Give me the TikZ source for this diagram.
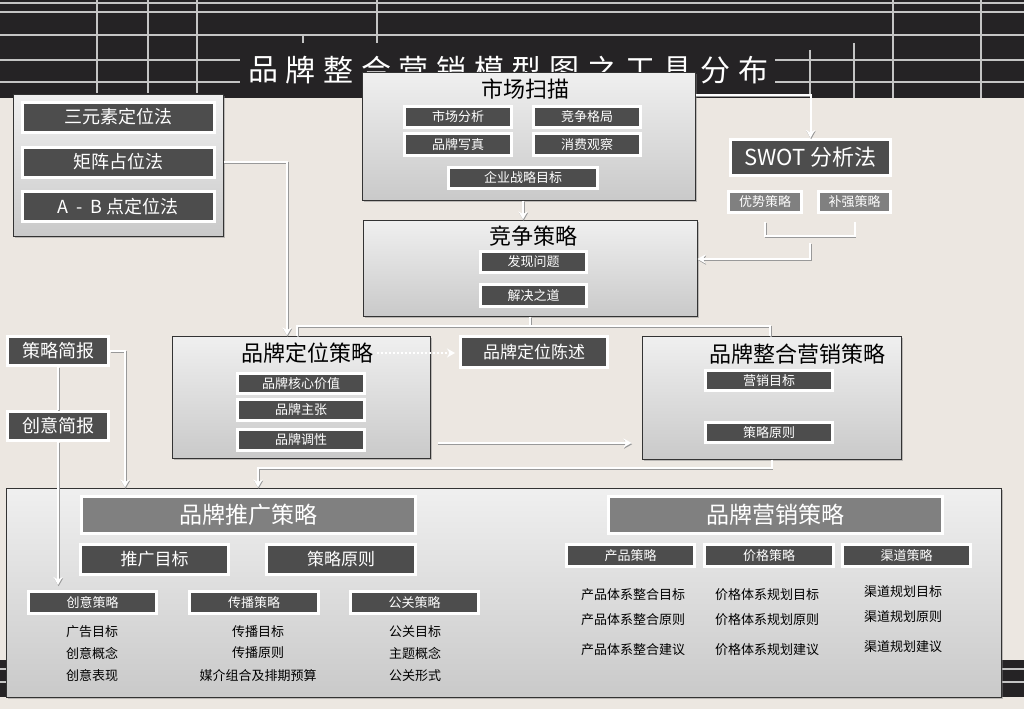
\documentclass[tikz,border=0pt]{standalone}
\usepackage{fontspec}
\setmainfont{Noto Sans CJK SC}
\usepackage{tikz}
\usetikzlibrary{arrows.meta,shadows}

\definecolor{paper}{HTML}{ECE7E1}
\definecolor{band}{HTML}{252325}
\definecolor{gridln}{HTML}{C4C4C4}
\definecolor{btndark}{HTML}{4D4D4D}
\definecolor{btngrey}{HTML}{808080}

\newcommand\pxsize[1]{\fontsize{#1}{#1}\selectfont}

\tikzset{
  panel/.style={draw=black!80, line width=1pt, top color=black!6, bottom color=black!21,
    inner sep=0pt, drop shadow={shadow xshift=1.5pt, shadow yshift=-1.5pt, opacity=.45}},
  btn/.style={draw=white, line width=3pt, fill=btndark, text=white, inner sep=0pt},
  greybtn/.style={btn, fill=btngrey},
  wire/.style={white, line width=2pt,
    preaction={draw=black!40, line width=2pt, transform canvas={xshift=.6pt, yshift=-1.2pt}}},
  listtxt/.style={font=\pxsize{13}, inner sep=0pt},
}

\begin{document}
\begin{tikzpicture}[x=1pt, y=-1pt, >={Stealth[length=8pt,width=9pt]}]
  \useasboundingbox (0,0) rectangle (1024,709);
  \fill[paper] (0,0) rectangle (1024,709);
  \fill[band] (0,0) rectangle (1024,98);
  \fill[band] (0,660) rectangle (1024,697);

  % grid of the dark bands
  \foreach \gy in {3,12,35,669,682}
    \draw[gridln, line width=1.5pt] (0,\gy) -- (1024,\gy);
  \foreach \gy in {60,82}
    \draw[gridln, line width=1.5pt] (0,\gy) -- (240,\gy) (775,\gy) -- (1024,\gy);
  \foreach \gx in {97,148,197}
    \draw[gridln, line width=1.5pt] (\gx,0) -- (\gx,93);
  \draw[gridln, line width=1.5pt] (377,0) -- (377,43) (303,35) -- (303,43)
    (854,43) -- (854,98) (893,0) -- (893,98) (981,0) -- (981,98) (810,50) -- (810,95);

  \foreach \ch [count=\i from 0] in {品,牌,整,合,营,销,模,型,图,之,工,具,分,布}
    \node[text=white, font=\pxsize{30}, inner sep=0pt] (title\i) at (263+37.7*\i,70) {\ch};

  % positioning methods
  \node[panel, minimum width=210, minimum height=142] (posbox) at (118,165) {};
  \node[btn, minimum width=192, minimum height=30, font=\pxsize{18}] (triad) at (118,117) {三元素定位法};
  \node[btn, minimum width=192, minimum height=30, font=\pxsize{18}] (matrix) at (118,162) {矩阵占位法};
  \node[btn, minimum width=192, minimum height=30, font=\pxsize{18}] (abpoint) at (118,206.5) {A\ \ -\ \ B 点定位法};

  % market scan
  \node[panel, minimum width=333, minimum height=128] (scanbox) at (528.5,136) {};
  \node[font=\pxsize{22}, inner sep=0pt] (scantitle) at (525,89) {市场扫描};
  \node[btn, minimum width=107, minimum height=21, font=\pxsize{13}] (mkt) at (458,116.5) {市场分析};
  \node[btn, minimum width=107, minimum height=21, font=\pxsize{13}] (rival) at (587,116.5) {竞争格局};
  \node[btn, minimum width=107, minimum height=22, font=\pxsize{13}] (brandpic) at (458,144.5) {品牌写真};
  \node[btn, minimum width=107, minimum height=22, font=\pxsize{13}] (consume) at (587,144.5) {消费观察};
  \node[btn, minimum width=149, minimum height=21, font=\pxsize{13}] (goal) at (523,178) {企业战略目标};

  % competition
  \node[panel, minimum width=334, minimum height=96] (comp) at (530,268) {};
  \node[font=\pxsize{22}, inner sep=0pt] (comptitle) at (533,236) {竞争策略};
  \node[btn, minimum width=106, minimum height=21, font=\pxsize{13}] (issue) at (533.5,261.5) {发现问题};
  \node[btn, minimum width=106, minimum height=22, font=\pxsize{13}] (solve) at (533.5,295.5) {解决之道};

  % swot
  \node[btn, minimum width=160, minimum height=36, font=\pxsize{22}] (swot) at (810.5,157.5) {SWOT 分析法};
  \node[greybtn, minimum width=73, minimum height=21, font=\pxsize{13}] (adv) at (765,202) {优势策略};
  \node[greybtn, minimum width=72, minimum height=21, font=\pxsize{13}] (fix) at (854.5,202) {补强策略};

  % positioning strategy
  \node[panel, minimum width=258, minimum height=122] (posstrat) at (301,397) {};
  \node[font=\pxsize{22}, inner sep=0pt] (postitle) at (307,353) {品牌定位策略};
  \node[btn, minimum width=127, minimum height=20, font=\pxsize{13}] (core) at (301,383.5) {品牌核心价值};
  \node[btn, minimum width=127, minimum height=21, font=\pxsize{13}] (claim) at (301,410) {品牌主张};
  \node[btn, minimum width=127, minimum height=21, font=\pxsize{13}] (tone) at (301,440) {品牌调性};
  \node[btn, minimum width=147, minimum height=31, font=\pxsize{17}] (posstate) at (534,352) {品牌定位陈述};

  % integrated marketing
  \node[panel, minimum width=259, minimum height=123] (imcbox) at (771.5,397.5) {};
  \node[font=\pxsize{22}, inner sep=0pt] (imctitle) at (797,354) {品牌整合营销策略};
  \node[btn, minimum width=127, minimum height=20, font=\pxsize{13}] (imcgoal) at (769,380.5) {营销目标};
  \node[btn, minimum width=127, minimum height=20, font=\pxsize{13}] (imcrule) at (769,432.5) {策略原则};

  % briefs
  \node[btn, minimum width=101, minimum height=29, font=\pxsize{18}] (brief1) at (58,351) {策略简报};
  \node[btn, minimum width=101, minimum height=29, font=\pxsize{18}] (brief2) at (58,426) {创意简报};

  % promotion and marketing
  \node[panel, minimum width=995, minimum height=209] (mainbox) at (503.5,592.5) {};
  \node[greybtn, minimum width=334, minimum height=37, font=\pxsize{23}] (promo) at (248.5,515) {品牌推广策略};
  \node[btn, minimum width=148, minimum height=30, font=\pxsize{17}] (promogoal) at (154.5,559.5) {推广目标};
  \node[btn, minimum width=149, minimum height=30, font=\pxsize{17}] (promorule) at (341,559.5) {策略原则};
  \node[btn, minimum width=128, minimum height=22, font=\pxsize{13}] (cre) at (92.5,602.5) {创意策略};
  \node[btn, minimum width=129, minimum height=22, font=\pxsize{13}] (spread) at (254,602.5) {传播策略};
  \node[btn, minimum width=128, minimum height=22, font=\pxsize{13}] (pr) at (414.5,602.5) {公关策略};
  \node[listtxt] (cre1) at (92,632) {广告目标};
  \node[listtxt] (cre2) at (92,653) {创意概念};
  \node[listtxt] (cre3) at (92,676) {创意表现};
  \node[listtxt] (spread1) at (258,632) {传播目标};
  \node[listtxt] (spread2) at (258,653) {传播原则};
  \node[listtxt] (spread3) at (258,676) {媒介组合及排期预算};
  \node[listtxt] (pr1) at (415,632) {公关目标};
  \node[listtxt] (pr2) at (415,653) {主题概念};
  \node[listtxt] (pr3) at (415,676) {公关形式};

  \node[greybtn, minimum width=334, minimum height=37, font=\pxsize{23}] (mktg) at (775.5,515) {品牌营销策略};
  \node[btn, minimum width=128, minimum height=22, font=\pxsize{13}] (prod) at (630.5,555.5) {产品策略};
  \node[btn, minimum width=129, minimum height=22, font=\pxsize{13}] (price) at (769,555.5) {价格策略};
  \node[btn, minimum width=128, minimum height=22, font=\pxsize{13}] (chan) at (906.5,555.5) {渠道策略};
  \node[listtxt] (prod1) at (633,595) {产品体系整合目标};
  \node[listtxt] (prod2) at (633,620) {产品体系整合原则};
  \node[listtxt] (prod3) at (633,650) {产品体系整合建议};
  \node[listtxt] (price1) at (767,595) {价格体系规划目标};
  \node[listtxt] (price2) at (767,620) {价格体系规划原则};
  \node[listtxt] (price3) at (767,650) {价格体系规划建议};
  \node[listtxt] (chan1) at (903,592) {渠道规划目标};
  \node[listtxt] (chan2) at (903,617) {渠道规划原则};
  \node[listtxt] (chan3) at (903,647) {渠道规划建议};

  % connectors
  \draw[wire, ->] (scanbox.south -| goal) -- (comp.north -| goal);
  \draw[wire, ->] ([yshift=-23pt]scanbox.north east) -| (swot.north);
  \draw[wire] ([yshift=-8pt]adv.south) -- ++(0,14) -| ([yshift=-8pt]fix.south);
  \coordinate (swotjoin) at (810,243);
  \draw[wire, ->] (swotjoin) |- ([yshift=9pt]comp.east);
  \draw[wire, ->] (posbox.east |- matrix) -| ([xshift=-14pt]posstrat.north);
  \draw[wire] (comp.south) -- ++(0,9) coordinate (comphub);
  \draw[wire] ([xshift=-4pt]posstrat.north) |- (comphub) -| ([xshift=-1.5pt]imcbox.north);
  \draw[white, line width=2.5pt, dash pattern=on 2pt off 2pt, -{Stealth[length=8pt,width=9pt]},
    shorten <=4pt, shorten >=4pt] (postitle.east) -- (postitle.east -| posstate.west);
  \draw[wire, ->, shorten <=7pt, shorten >=10pt]
    ([yshift=-46pt]posstrat.east) -- ([yshift=-46pt]posstrat.east -| imcbox.west);
  \draw[wire, ->] (imcbox.south) -- ++(0,8) -| ([xshift=-245.5pt]mainbox.north);
  \draw[wire] (brief1.south) -- (brief2.north);
  \draw[wire, ->, shorten >=5pt] (brief2.south) -- (brief2.south |- cre.north);
  \draw[wire, ->] (brief1.east) -| ([xshift=-378.5pt]mainbox.north);
\end{tikzpicture}
\end{document}
